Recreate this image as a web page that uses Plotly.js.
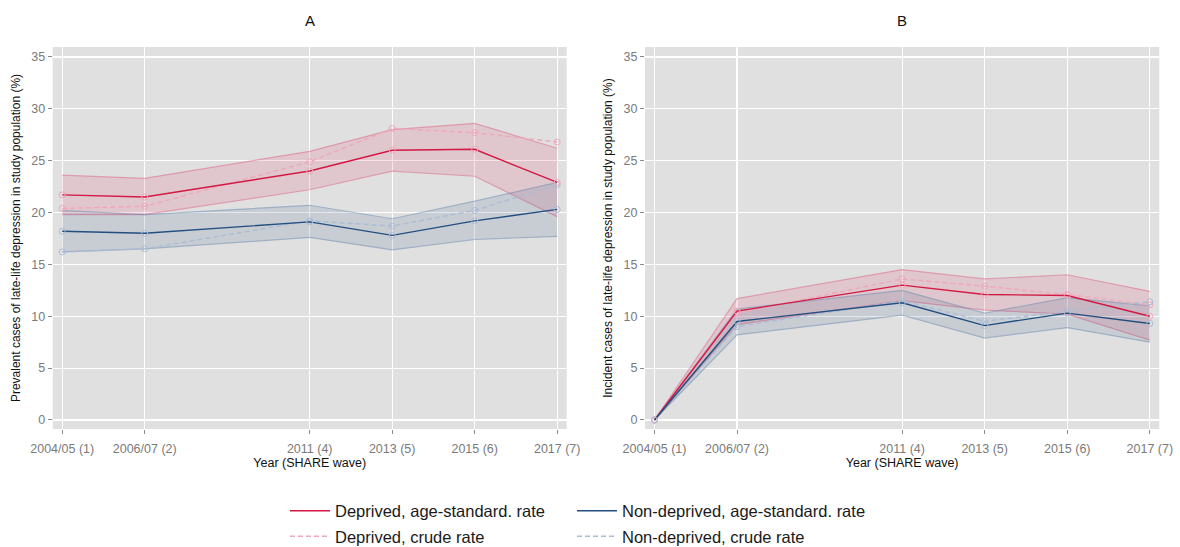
<!DOCTYPE html>
<html>
<head>
<meta charset="utf-8">
<script src="https://cdn.plot.ly/plotly-3.0.1.min.js"></script>
<style>html,body{margin:0;padding:0;background:#fff;}#chart{width:1180px;height:547px;}</style>
</head>
<body>
<div id="chart"></div>
<script>
// ---- data ----
const years = [2005, 2007, 2011, 2013, 2015, 2017];
const tickLabels = ['2004/05 (1)', '2006/07 (2)', '2011 (4)', '2013 (5)', '2015 (6)', '2017 (7)'];
const yTicks = [0, 5, 10, 15, 20, 25, 30, 35];

// Panel A: prevalent cases (%)
const aDepStd   = [21.7, 21.5, 24.0, 26.0, 26.1, 22.9];
const aDepLo    = [19.8, 19.8, 22.2, 24.0, 23.5, 19.6];
const aDepHi    = [23.6, 23.3, 25.9, 28.0, 28.6, 26.2];
const aDepCrude = [20.4, 20.6, 24.9, 28.1, 27.7, 26.8];
const aNonStd   = [18.2, 18.0, 19.1, 17.8, 19.2, 20.3];
const aNonLo    = [16.2, 16.5, 17.6, 16.4, 17.4, 17.7];
const aNonHi    = [20.2, 19.8, 20.7, 19.4, 21.1, 22.9];
const aNonCrude = [16.2, 16.5, 19.2, 18.7, 20.2, 22.7];

// Panel B: incident cases (%)
const bDepStd   = [0, 10.5, 13.0, 12.1, 12.0, 10.0];
const bDepLo    = [0, 9.2, 11.5, 10.6, 10.2, 7.7];
const bDepHi    = [0, 11.7, 14.5, 13.6, 14.0, 12.4];
const bDepCrude = [0, 10.3, 13.6, 12.9, 12.1, 11.1];
const bNonStd   = [0, 9.5, 11.3, 9.1, 10.3, 9.3];
const bNonLo    = [0, 8.2, 10.1, 7.9, 8.9, 7.5];
const bNonHi    = [0, 10.7, 12.5, 10.3, 11.8, 11.0];
const bNonCrude = [0, 9.0, 11.5, 9.5, 10.5, 11.4];

const names = ['Deprived, age-standard. rate', 'Non-deprived, age-standard. rate',
               'Deprived, crude rate', 'Non-deprived, crude rate'];

// ---- styles ----
const RED = 'rgb(212,24,68)';
const BLUE = 'rgb(34,78,128)';
const PINK = 'rgb(238,168,186)';
const LBLUE = 'rgb(172,188,210)';
const RED_EDGE = 'rgba(220,110,140,0.55)';
const BLUE_EDGE = 'rgba(110,140,175,0.5)';
const RED_FILL = 'rgba(220,60,100,0.15)';
const BLUE_FILL = 'rgba(40,80,130,0.13)';
const FONT = 'Liberation Sans, Arial, sans-serif';
const DASH = '5px,3px';

function band(lo, hi, xa, ya, edge, fill) {
  return [
    {x: years, y: hi, xaxis: xa, yaxis: ya, mode: 'lines', line: {color: edge, width: 1.2},
     showlegend: false, hoverinfo: 'skip'},
    {x: years, y: lo, xaxis: xa, yaxis: ya, mode: 'lines', line: {color: edge, width: 1.2},
     fill: 'tonexty', fillcolor: fill, showlegend: false, hoverinfo: 'skip'}
  ];
}
function series(y, xa, ya, color, mcolor, dash, name, legend, show) {
  return [
    {x: years, y: y, xaxis: xa, yaxis: ya, mode: 'lines', name: name,
     line: {color: color, width: 1.4, dash: dash}, legend: legend, showlegend: show},
    {x: years, y: y, xaxis: xa, yaxis: ya, mode: 'markers', showlegend: false, hoverinfo: 'skip',
     marker: {symbol: 'circle-open', size: 6, color: mcolor, line: {width: 1, color: mcolor}}}
  ];
}

const traces = [].concat(
  band(aDepLo, aDepHi, 'x', 'y', RED_EDGE, RED_FILL),
  band(aNonLo, aNonHi, 'x', 'y', BLUE_EDGE, BLUE_FILL),
  series(aDepCrude, 'x', 'y', PINK, PINK, DASH, names[2], 'legend3', true),
  series(aNonCrude, 'x', 'y', LBLUE, LBLUE, DASH, names[3], 'legend4', true),
  series(aDepStd, 'x', 'y', RED, PINK, 'solid', names[0], 'legend', true),
  series(aNonStd, 'x', 'y', BLUE, LBLUE, 'solid', names[1], 'legend2', true),
  band(bDepLo, bDepHi, 'x2', 'y2', RED_EDGE, RED_FILL),
  band(bNonLo, bNonHi, 'x2', 'y2', BLUE_EDGE, BLUE_FILL),
  series(bDepCrude, 'x2', 'y2', PINK, PINK, DASH, names[2], 'legend3', false),
  series(bNonCrude, 'x2', 'y2', LBLUE, LBLUE, DASH, names[3], 'legend4', false),
  series(bDepStd, 'x2', 'y2', RED, PINK, 'solid', names[0], 'legend', false),
  series(bNonStd, 'x2', 'y2', BLUE, LBLUE, 'solid', names[1], 'legend2', false)
);

function xaxis(domain, anchor) {
  return {domain: domain, anchor: anchor, range: [2004.77, 2017.23], tickvals: years, ticktext: tickLabels,
    showgrid: true, gridcolor: '#ffffff', gridwidth: 1.2, zeroline: false, showline: false,
    ticks: 'outside', ticklen: 4, tickwidth: 1, tickcolor: '#8a8a8a', ticklabelstandoff: 4,
    tickfont: {family: FONT, size: 12.5, color: '#7a7a7a'}, automargin: false,
    title: {text: 'Year (SHARE wave)', font: {family: FONT, size: 12.5, color: '#111'}, standoff: 0}};
}
function yaxis(anchor, title) {
  return {anchor: anchor, domain: [0, 1], range: [-0.87, 35.96], tickvals: yTicks,
    showgrid: true, gridcolor: '#ffffff', gridwidth: 1.2, zeroline: false, showline: false,
    ticks: 'outside', ticklen: 4, tickwidth: 1, tickcolor: '#8a8a8a',
    tickfont: {family: FONT, size: 12.5, color: '#7a7a7a'}, automargin: false,
    title: {text: title, font: {family: FONT, size: 12, color: '#111'}, standoff: 8}};
}

const W = 1180, H = 547, T = 46.7, B = 117.7;
const plotH = H - T - B;
const py = p => (H - B - p) / plotH;   // pixel y -> paper y
const px = p => p / W;                 // pixel x -> paper x

function leg(xp, yp) {
  return {x: px(xp), y: py(yp), xanchor: 'left', yanchor: 'middle', bgcolor: 'rgba(0,0,0,0)',
    font: {family: FONT, size: 16.5, color: '#1a1a1a'}, borderwidth: 0, orientation: 'v', itemwidth: 40};
}

const layout = {
  width: W, height: H,
  margin: {l: 0, r: 0, t: T, b: B, pad: 0, autoexpand: false},
  paper_bgcolor: '#ffffff', plot_bgcolor: '#e0e0e0',
  font: {family: FONT},
  xaxis: xaxis([52.7 / W, 566.7 / W], 'y'),
  yaxis: yaxis('x', 'Prevalent cases of late-life depression in study population (%)'),
  xaxis2: xaxis([645 / W, 1159.3 / W], 'y2'),
  yaxis2: yaxis('x2', 'Incident cases of late-life depression in study population (%)'),
  legend: leg(285, 511.5),
  legend2: leg(572, 511.5),
  legend3: leg(285, 537),
  legend4: leg(572, 537),
  annotations: [
    {text: 'A', x: (52.7 + 566.7) / 2 / W, y: py(20), xref: 'paper', yref: 'paper', showarrow: false,
     xanchor: 'center', yanchor: 'middle', font: {family: FONT, size: 15, color: '#111'}},
    {text: 'B', x: (645 + 1159.3) / 2 / W, y: py(20), xref: 'paper', yref: 'paper', showarrow: false,
     xanchor: 'center', yanchor: 'middle', font: {family: FONT, size: 15, color: '#111'}}
  ]
};

Plotly.newPlot('chart', traces, layout, {displayModeBar: false, staticPlot: true});
</script>
</body>
</html>
